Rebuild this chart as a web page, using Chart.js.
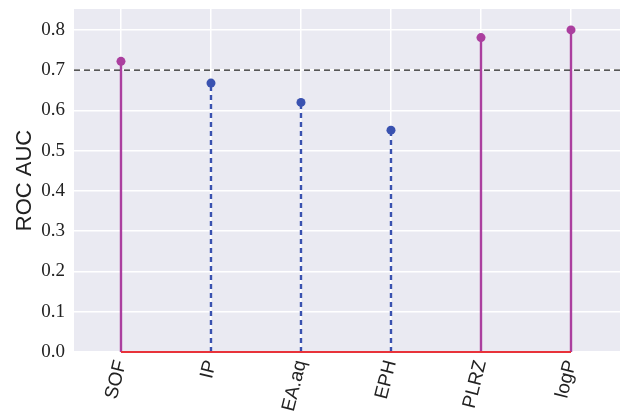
<!DOCTYPE html>
<html>
<head>
<meta charset="utf-8">
<script src="https://cdn.jsdelivr.net/npm/chart.js@4/dist/chart.umd.min.js"></script>
<style>
  html, body { margin: 0; padding: 0; background: #fff; overflow: hidden; }
  #wrap { width: 620px; height: 415px; overflow: hidden; }
</style>
</head>
<body>
<div id="wrap"><canvas id="myChart" width="625" height="415"></canvas></div>
<script>
// descriptors and their ROC AUC
const labels = ['SOF', 'IP', 'EA.aq', 'EPH', 'PLRZ', 'logP'];
const rocAuc = [0.722, 0.668, 0.620, 0.551, 0.781, 0.800];
const threshold = 0.7;
const yTicks = [0.0, 0.1, 0.2, 0.3, 0.4, 0.5, 0.6, 0.7, 0.8];

const HIGH = '#ab3f9f';
const LOW = '#3a52b0';

// one stem per descriptor
let stems = labels.map(function(name, i) {
    let above = rocAuc[i] >= threshold;
    let col = above ? HIGH : LOW;
    return {
        label: name,
        data: [{x: i, y: 0}, {x: i, y: rocAuc[i]}],
        borderColor: col,
        backgroundColor: col,
        borderWidth: 2.4,
        borderDash: above ? [] : [5, 4],
        pointRadius: [0, 4.5],
        pointBackgroundColor: col,
        pointBorderWidth: 0,
        showLine: true,
        order: 1
    };
});

// red baseline
let baseline = {
    label: 'base',
    data: labels.map(function(n, i) { return {x: i, y: 0}; }),
    borderColor: '#e8323a',
    borderWidth: 1.8,
    pointRadius: 0,
    showLine: true,
    clip: false,
    order: 0
};

const bgPlugin = {
    id: 'bg',
    beforeDraw: function(chart) {
        const a = chart.chartArea, ctx = chart.ctx;
        ctx.save();
        ctx.fillStyle = '#eaeaf2';
        ctx.fillRect(a.left, a.top, a.right - a.left, a.bottom - a.top);
        ctx.restore();
    }
};

const thresholdLine = {
    id: 'thr',
    afterDatasetsDraw: function(chart) {
        const a = chart.chartArea, ctx = chart.ctx;
        const y = chart.scales.y.getPixelForValue(threshold);
        ctx.save();
        ctx.strokeStyle = '#222';
        ctx.lineWidth = 1.3;
        ctx.setLineDash([6, 4]);
        ctx.beginPath();
        ctx.moveTo(a.left, y);
        ctx.lineTo(a.right, y);
        ctx.stroke();
        ctx.restore();
    }
};

const config = {
    type: 'scatter',
    data: { datasets: stems.concat([baseline]) },
    options: {
        responsive: false,
        animation: false,
        layout: { padding: { top: 9, right: 0, left: 0, bottom: 0 } },
        plugins: { legend: { display: false }, tooltip: { enabled: false } },
        scales: {
            x: {
                type: 'linear',
                min: -0.522,
                max: 5.55,
                afterBuildTicks: function(scale) {
                    scale.ticks = labels.map(function(n, i) { return {value: i}; });
                },
                afterFit: function(scale) {
                    scale.height = 63;
                    scale.paddingLeft = 0;
                    scale.paddingRight = 0;
                },
                grid: { color: '#ffffff', lineWidth: 1.5, drawTicks: false },
                border: { display: false },
                ticks: {
                    autoSkip: false,
                    minRotation: 76,
                    maxRotation: 76,
                    padding: 6,
                    color: '#222',
                    font: { family: 'Liberation Sans', size: 19 },
                    callback: function(v) { return labels[v]; }
                }
            },
            y: {
                min: 0,
                max: 0.852,
                afterBuildTicks: function(scale) {
                    scale.ticks = yTicks.map(function(v) { return {value: v}; });
                },
                afterFit: function(scale) {
                    scale.width = 74;
                    scale.paddingTop = 0;
                    scale.paddingBottom = 0;
                },
                grid: { color: '#ffffff', lineWidth: 1.5, drawTicks: false },
                border: { display: false },
                title: {
                    display: true,
                    text: 'ROC AUC',
                    color: '#222',
                    padding: { top: 12, bottom: 0 },
                    font: { family: 'Liberation Sans', size: 22 }
                },
                ticks: {
                    padding: 9,
                    color: '#222',
                    font: { family: 'Liberation Serif', size: 19 },
                    callback: function(v) { return v.toFixed(1); }
                }
            }
        }
    },
    plugins: [bgPlugin, thresholdLine]
};

var myChart = new Chart(document.getElementById('myChart'), config);
</script>
</body>
</html>
